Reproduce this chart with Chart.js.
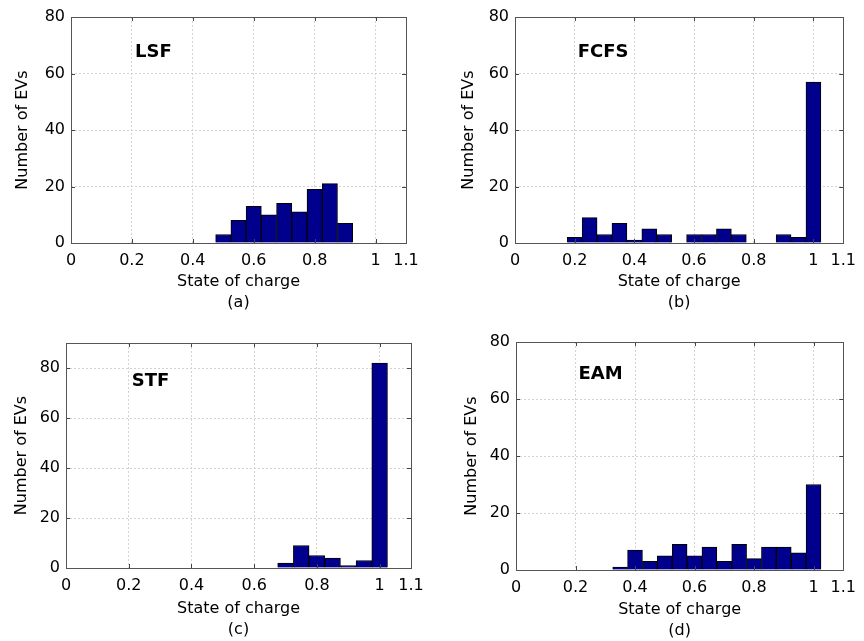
<!DOCTYPE html>
<html>
<head>
<meta charset="utf-8">
<script src="https://cdn.jsdelivr.net/npm/chart.js@4/dist/chart.umd.min.js"></script>
<style>
  html, body { margin: 0; padding: 0; background: #fff; }
  #wrap { position: relative; width: 864px; height: 641px; overflow: hidden; }
  .panel { position: absolute; }
</style>
</head>
<body>
<div id="wrap">
  <div class="panel" style="left:0;top:0;width:432px;height:320px"><canvas id="ca"></canvas></div>
  <div class="panel" style="left:432px;top:0;width:432px;height:320px"><canvas id="cb"></canvas></div>
  <div class="panel" style="left:0;top:320px;width:432px;height:321px"><canvas id="cc"></canvas></div>
  <div class="panel" style="left:432px;top:320px;width:432px;height:321px"><canvas id="cd"></canvas></div>
</div>
<script>
// bin centres (state of charge) and counts
const binsLSF  = [0.5, 0.55, 0.6, 0.65, 0.7, 0.75, 0.8, 0.85, 0.9];
const countLSF = [3, 8, 13, 10, 14, 11, 19, 21, 7];

const binsFCFS  = [0.2, 0.25, 0.3, 0.35, 0.4, 0.45, 0.5, 0.55, 0.6, 0.65, 0.7, 0.75, 0.8, 0.85, 0.9, 0.95, 1.0];
const countFCFS = [2, 9, 3, 7, 1, 5, 3, 0, 3, 3, 5, 3, 0, 0, 3, 2, 57];

const binsSTF  = [0.7, 0.75, 0.8, 0.85, 0.9, 0.95, 1.0];
const countSTF = [2, 9, 5, 4, 1, 3, 82];

const binsEAM  = [0.35, 0.4, 0.45, 0.5, 0.55, 0.6, 0.65, 0.7, 0.75, 0.8, 0.85, 0.9, 0.95, 1.0];
const countEAM = [1, 7, 3, 5, 9, 5, 8, 3, 9, 4, 8, 8, 6, 30];

const xTicks = [0, 0.2, 0.4, 0.6, 0.8, 1, 1.1];
const yTicks = [0, 20, 40, 60, 80];

const FONT = "'DejaVu Sans', Arial, sans-serif";

// canvas size, wanted plot rectangle inside the canvas, title offsets
const panels = [
  { id: 'ca', name: 'LSF',  sub: '(a)', bins: binsLSF,  counts: countLSF,  yMax: 80, labelY: 67.5,
    w: 432, h: 320, area: { l: 71, t: 17, r: 406, b: 243 }, yTitleX: 23, titleBottom: 7 },
  { id: 'cb', name: 'FCFS', sub: '(b)', bins: binsFCFS, counts: countFCFS, yMax: 80, labelY: 67.5,
    w: 432, h: 320, area: { l: 83, t: 17, r: 417, b: 243 }, yTitleX: 37, titleBottom: 7 },
  { id: 'cc', name: 'STF',  sub: '(c)', bins: binsSTF,  counts: countSTF,  yMax: 90, labelY: 74.5,
    w: 432, h: 321, area: { l: 66, t: 23, r: 411, b: 248 }, yTitleX: 22, titleBottom: 1 },
  { id: 'cd', name: 'EAM',  sub: '(d)', bins: binsEAM,  counts: countEAM,  yMax: 80, labelY: 68.5,
    w: 432, h: 321, area: { l: 84, t: 22, r: 418, b: 250 }, yTitleX: 40, titleBottom: 0 }
];

// frame, inward tick marks and the panel name
const framePlugin = {
  id: 'frame',
  afterDatasetsDraw(chart, args, opts) {
    const { ctx, chartArea: a, scales: { x, y } } = chart;
    ctx.save();
    ctx.strokeStyle = '#444';
    ctx.lineWidth = 1;
    ctx.beginPath();
    xTicks.forEach(v => {
      const px = Math.round(x.getPixelForValue(v)) + 0.5;
      ctx.moveTo(px, a.bottom); ctx.lineTo(px, a.bottom - 4);
      ctx.moveTo(px, a.top); ctx.lineTo(px, a.top + 4);
    });
    yTicks.forEach(v => {
      const py = Math.round(y.getPixelForValue(v)) + 0.5;
      ctx.moveTo(a.left, py); ctx.lineTo(a.left + 4, py);
      ctx.moveTo(a.right, py); ctx.lineTo(a.right - 4, py);
    });
    ctx.stroke();
    ctx.strokeStyle = '#555';
    ctx.strokeRect(Math.round(a.left) + 0.5, Math.round(a.top) + 0.5,
      Math.round(a.right - a.left), Math.round(a.bottom - a.top));

    ctx.fillStyle = '#000';
    ctx.font = 'bold 18px ' + FONT;
    ctx.textBaseline = 'middle';
    ctx.textAlign = 'left';
    ctx.fillText(opts.text, x.getPixelForValue(0.21), y.getPixelForValue(opts.y));
    ctx.restore();
  }
};

panels.forEach(p => {
  const cv = document.getElementById(p.id);
  cv.width = p.w; cv.height = p.h;
  cv.style.width = p.w + 'px'; cv.style.height = p.h + 'px';
  const yW = p.area.l;
  const xH = p.h - p.area.b;

  new Chart(cv, {
    type: 'bar',
    data: {
      datasets: [{
        data: p.bins.map((b, i) => ({ x: b, y: p.counts[i] })),
        backgroundColor: '#00008c',
        borderColor: '#000',
        borderWidth: 1,
        barPercentage: 1,
        categoryPercentage: 1
      }]
    },
    options: {
      responsive: false,
      animation: false,
      devicePixelRatio: 1,
      layout: { padding: { left: 0, top: p.area.t, right: p.w - p.area.r, bottom: 0 } },
      plugins: {
        legend: { display: false },
        tooltip: { enabled: false },
        frame: { text: p.name, y: p.labelY }
      },
      scales: {
        x: {
          type: 'linear',
          min: 0, max: 1.1,
          offset: false,
          afterBuildTicks: s => { s.ticks = xTicks.map(v => ({ value: v })); },
          afterFit: s => { s.height = xH; },
          ticks: {
            padding: 8, color: '#000', maxRotation: 0, autoSkip: false,
            font: { family: FONT, size: 16 },
            callback: v => String(v)
          },
          grid: { offset: false, drawTicks: false, color: '#d2d2d2', lineWidth: 1 },
          border: { display: false, dash: [2, 2] },
          title: {
            display: true, text: ['State of charge', p.sub], color: '#000',
            font: { family: FONT, size: 16, lineHeight: 1.3 },
            padding: { top: 0, bottom: p.titleBottom }
          }
        },
        y: {
          min: 0, max: p.yMax,
          afterBuildTicks: s => { s.ticks = yTicks.map(v => ({ value: v })); },
          afterFit: s => { s.width = yW; },
          ticks: {
            padding: 6, color: '#000',
            font: { family: FONT, size: 16 },
            callback: v => String(v)
          },
          grid: { drawTicks: false, color: '#d2d2d2', lineWidth: 1 },
          border: { display: false, dash: [2, 2] },
          title: {
            display: true, text: 'Number of EVs', color: '#000',
            font: { family: FONT, size: 16, lineHeight: 1.2 },
            padding: { top: p.yTitleX - 10, bottom: 0 }
          }
        }
      }
    },
    plugins: [framePlugin]
  });
});
</script>
</body>
</html>
